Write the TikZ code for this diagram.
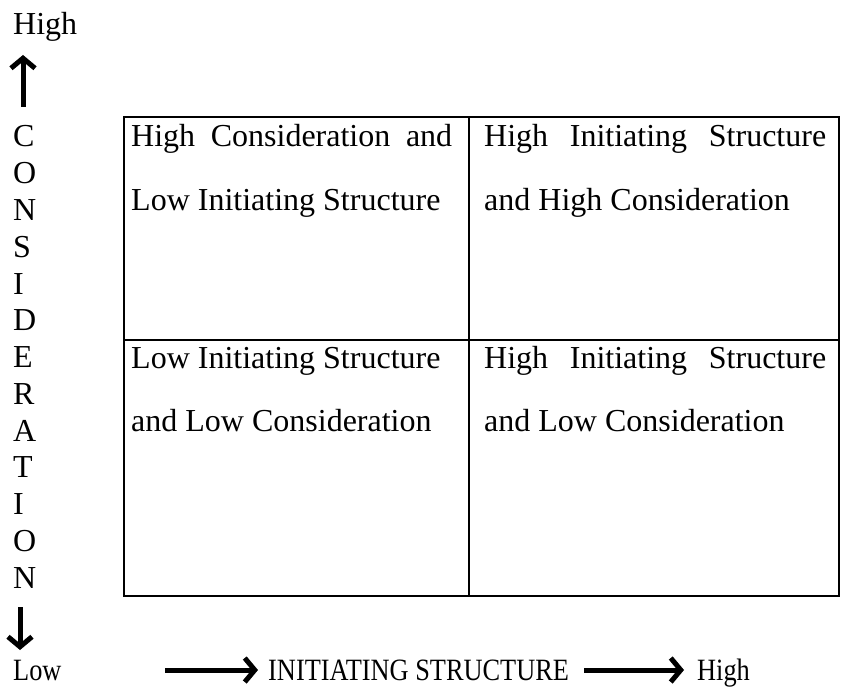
\documentclass[tikz,border=0pt]{standalone}
\usepackage{fontspec}
\setmainfont{Liberation Serif}
\newfontfamily\narrowserif[FakeStretch=0.85]{Liberation Serif}
\usetikzlibrary{arrows.meta}
\begin{document}
\begin{tikzpicture}[x=1pt,y=-1pt,
  txt/.style={inner sep=0pt,anchor=base west,font=\fontsize{32}{38}\selectfont},
  axistxt/.style={inner sep=0pt,anchor=base west,font=\narrowserif\fontsize{31}{36}\selectfont},
  grid/.style={line width=2.4pt,line join=miter},
  bigarrow/.style={line width=5pt,-{Straight Barb[length=10pt,width=24pt,line width=5pt]}}]
\useasboundingbox (0,0) rectangle (853,687);
% table
\draw[grid] (124,117) rectangle (839,596);
\draw[grid] (469,117) -- (469,596);
\draw[grid] (124,340) -- (839,340);
% cell texts
\node[txt] (a1) at (131,147) {\makebox[321pt][s]{High Consideration and}};
\node[txt] (a2) at (131,210) {Low Initiating Structure};
\node[txt] (b1) at (484,147) {\makebox[342pt][s]{High Initiating Structure}};
\node[txt] (b2) at (484,210) {and High Consideration};
\node[txt] (c1) at (131,368) {Low Initiating Structure};
\node[txt] (c2) at (131,431) {and Low Consideration};
\node[txt] (d1) at (484,368) {\makebox[342pt][s]{High Initiating Structure}};
\node[txt] (d2) at (484,431) {and Low Consideration};
% vertical axis label
\foreach \l [count=\i from 0] in {C,O,N,S,I,D,E,R,A,T,I,O,N}
  \node[txt] (L\i) at (13,147+36.75*\i) {\l};
\node[txt] (hightop) at (13,35) {High};
\coordinate (ta0) at (23,107);
\coordinate (ta1) at (23,55);
\draw[bigarrow] (ta0) -- (ta1);
\coordinate (ba0) at (20,607);
\coordinate (ba1) at (20,650);
\draw[bigarrow] (ba0) -- (ba1);
% bottom row
\node[axistxt] (low) at (13,680) {Low};
\node[axistxt] (init) at (268,680) {INITIATING STRUCTURE};
\node[axistxt] (highr) at (697,680) {High};
\coordinate (h0) at (165,670);
\coordinate (h1) at (258,670);
\coordinate (h2) at (584,670);
\coordinate (h3) at (684,670);
\draw[bigarrow] (h0) -- (h1);
\draw[bigarrow] (h2) -- (h3);
\end{tikzpicture}
\end{document}
